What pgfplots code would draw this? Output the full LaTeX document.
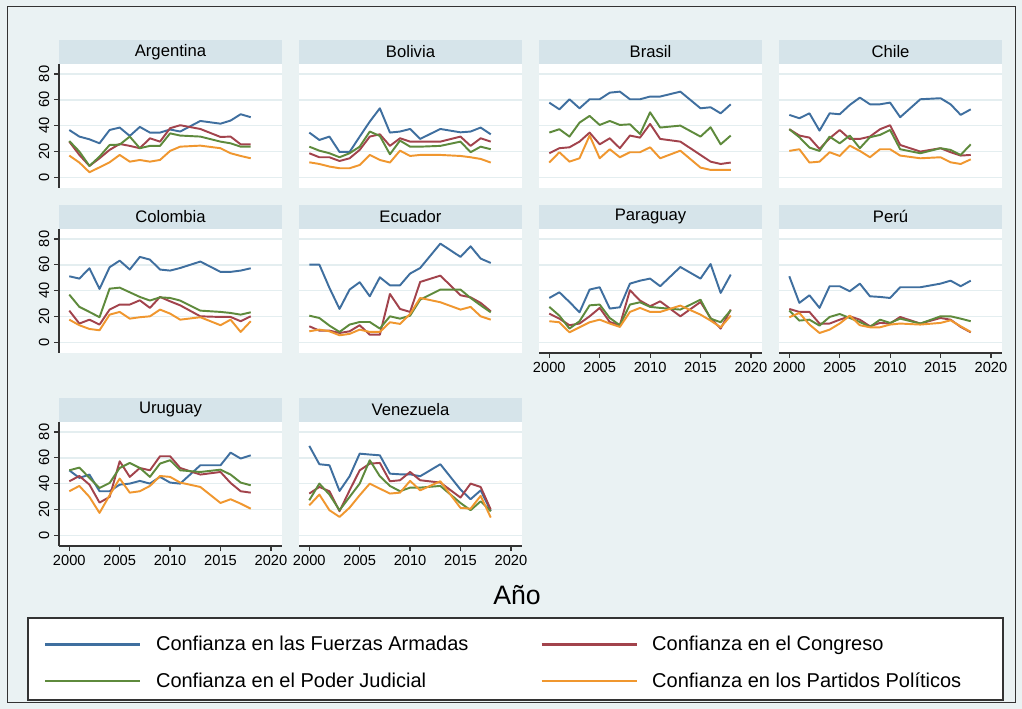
\documentclass[border=0pt]{standalone}
\usepackage{fontspec}
\setmainfont{Liberation Sans}
\usepackage{pgfplots}
\pgfplotsset{compat=1.18}
\usepackage{pgfplotstable}

\definecolor{bgc}{HTML}{EAF2F3}
\definecolor{stripc}{HTML}{D6E4EA}
\definecolor{gridc}{HTML}{E4EEF0}
\definecolor{axc}{HTML}{333333}
\definecolor{cfa}{HTML}{3F6F9F}
\definecolor{cco}{HTML}{A2434C}
\definecolor{cpj}{HTML}{5E8A3C}
\definecolor{cpp}{HTML}{F0972F}

% columns: fa = Fuerzas Armadas, co = Congreso, pj = Poder Judicial, pp = Partidos
\pgfplotstableread{
year fa co pj pp
2000 36.6 27.6 28.1 16.8
2001 31.5 17.3 19.9 11.4
2002 29.4 8.8 8.8 3.9
2003 26.3 14.7 16.0 7.7
2004 36.6 21.2 25.0 11.6
2005 38.5 25.8 25.3 17.3
2006 32.0 24.3 31.5 12.1
2007 39.0 22.5 22.5 13.4
2008 34.6 30.2 24.3 12.1
2009 34.6 27.6 24.3 13.4
2010 37.0 38.0 34.0 20.4
2011 35.4 40.3 32.3 23.7
2013 43.6 37.4 31.5 24.5
2015 41.5 31.2 27.6 22.5
2016 43.9 31.5 26.3 18.6
2017 48.8 25.5 23.7 16.5
2018 46.5 25.5 23.7 14.7
}\argentina
\pgfplotstableread{
year fa co pj pp
2000 34.6 18.6 23.7 11.6
2001 28.9 15.5 20.6 10.3
2002 31.5 15.5 18.6 8.3
2003 19.6 12.6 15.5 7.0
2004 19.6 14.7 18.6 7.0
2005 31.5 21.2 23.7 9.5
2006 43.1 31.5 35.4 17.3
2007 53.4 33.3 32.0 13.4
2008 34.6 24.3 17.8 11.4
2009 35.4 30.2 28.4 20.6
2010 37.4 27.6 23.7 16.5
2011 29.7 27.6 23.7 17.3
2013 37.4 27.6 24.3 17.3
2015 34.8 31.5 27.6 16.5
2016 35.4 24.3 19.4 15.5
2017 38.5 30.2 23.7 14.2
2018 33.3 27.6 21.7 11.4
}\bolivia
\pgfplotstableread{
year fa co pj pp
2000 57.8 18.6 34.6 11.4
2001 52.6 22.5 37.2 19.4
2002 60.4 23.2 31.5 12.1
2003 53.4 27.6 42.3 14.7
2004 60.4 34.6 47.5 32.3
2005 60.4 25.5 40.5 14.7
2006 65.5 30.2 43.6 21.7
2007 66.3 22.5 40.5 15.5
2008 60.4 32.3 41.0 19.4
2009 60.4 30.7 33.5 19.4
2010 62.5 41.3 50.3 23.2
2011 62.5 29.7 38.5 14.7
2013 66.3 27.6 40.0 20.6
2015 53.4 17.3 31.5 7.5
2016 54.2 12.1 38.7 5.7
2017 49.5 10.3 25.5 5.7
2018 56.5 11.4 32.3 5.7
}\brasil
\pgfplotstableread{
year fa co pj pp
2000 48.3 37.2 37.2 20.4
2001 45.7 32.3 31.0 21.7
2002 49.5 30.7 23.0 11.4
2003 36.1 21.9 20.4 12.1
2004 49.5 30.2 31.5 19.4
2005 48.8 36.6 26.3 16.5
2006 56.0 29.7 32.3 24.5
2007 61.7 29.7 22.5 20.4
2008 56.5 31.5 31.0 15.5
2009 56.5 37.2 32.8 21.7
2010 57.8 40.3 36.6 21.7
2011 46.5 25.0 21.7 16.8
2013 60.4 19.9 18.6 14.7
2015 61.2 22.5 22.5 15.5
2016 56.5 19.4 21.2 11.6
2017 48.3 16.8 17.3 10.3
2018 52.6 17.3 25.5 13.9
}\chile
\pgfplotstableread{
year fa co pj pp
2000 51.1 24.5 36.9 17.5
2001 49.3 14.5 27.4 13.2
2002 57.3 17.5 23.5 10.3
2003 41.3 13.7 19.4 9.3
2004 58.1 25.3 41.5 21.4
2005 63.2 29.2 42.3 23.5
2006 56.3 29.2 38.7 18.3
2007 66.1 32.5 35.1 19.4
2008 64.0 26.6 32.3 20.1
2009 56.3 35.1 34.8 25.3
2010 55.5 31.7 34.3 22.2
2011 57.5 28.6 32.3 17.5
2013 62.5 20.1 24.5 19.4
2015 54.5 19.6 23.5 13.2
2016 54.5 19.6 22.7 17.5
2017 55.5 16.3 21.4 8.0
2018 57.3 20.1 23.2 16.3
}\colombia
\pgfplotstableread{
year fa co pj pp
2000 60.1 12.4 20.6 8.5
2001 60.1 9.0 18.8 9.8
2002 42.1 9.0 12.9 8.5
2003 25.8 7.2 8.0 5.4
2004 40.8 8.5 13.7 6.5
2005 46.5 13.2 15.7 9.8
2006 35.6 5.9 15.7 8.0
2007 50.3 5.9 10.6 8.0
2008 44.1 37.4 20.1 15.5
2009 44.1 25.8 18.3 14.2
2010 53.2 23.5 20.6 21.9
2011 57.5 46.7 33.0 34.3
2013 76.4 51.6 40.8 31.0
2015 66.1 36.4 40.8 25.3
2016 74.3 34.8 34.3 27.4
2017 64.8 30.5 28.6 20.1
2018 61.4 24.0 23.2 17.5
}\ecuador
\pgfplotstableread{
year fa co pj pp
2000 34.3 22.2 27.4 16.3
2001 38.7 18.3 20.6 15.5
2002 31.2 13.2 10.6 7.7
2003 23.2 14.5 16.3 11.6
2004 40.8 20.1 28.6 15.5
2005 42.6 26.6 29.2 17.5
2006 26.1 15.7 18.8 14.5
2007 27.1 13.2 13.2 11.9
2008 45.4 40.3 29.2 23.5
2009 47.7 32.3 31.0 26.6
2010 49.3 27.9 27.4 23.5
2011 43.4 31.7 26.6 23.5
2013 58.3 20.1 25.3 28.4
2015 49.3 31.2 33.0 21.4
2016 60.6 18.8 18.3 16.8
2017 38.2 10.6 15.5 11.6
2018 52.4 25.3 24.8 20.6
}\paraguay
\pgfplotstableread{
year fa co pj pp
2000 51.1 25.8 24.5 19.4
2001 30.5 23.5 16.8 22.7
2002 36.4 23.5 17.5 13.7
2003 26.6 14.5 12.9 7.2
2004 43.4 14.5 19.6 9.8
2005 43.4 17.5 21.9 14.5
2006 39.5 20.1 18.8 20.6
2007 45.4 17.5 15.7 13.2
2008 35.6 12.4 11.9 11.6
2009 35.1 15.0 17.5 11.6
2010 34.3 14.5 15.0 13.7
2011 42.6 19.6 18.3 14.5
2013 42.6 14.5 14.5 13.7
2015 45.4 18.8 20.1 15.0
2016 47.7 17.5 20.1 17.0
2017 43.4 11.9 18.3 12.4
2018 47.7 7.7 16.3 8.0
}\peru
\pgfplotstableread{
year fa co pj pp
2000 50.3 41.8 50.3 34.1
2001 44.4 45.9 52.4 38.2
2002 47.0 39.2 44.4 29.7
2003 34.1 25.3 36.6 17.3
2004 34.1 29.7 40.5 31.0
2005 39.2 57.3 52.1 43.9
2006 40.0 45.2 56.0 33.0
2007 42.1 52.1 52.1 34.1
2008 40.0 50.3 45.2 38.2
2009 45.2 61.2 55.5 45.9
2010 40.8 61.2 58.1 45.2
2011 40.0 52.1 50.3 40.8
2013 54.2 47.0 49.0 37.4
2015 54.2 49.0 50.8 25.0
2016 64.0 40.5 47.0 27.9
2017 59.4 34.1 40.8 24.5
2018 61.9 33.0 38.7 20.6
}\uruguay
\pgfplotstableread{
year fa co pj pp
2000 69.2 32.3 27.1 23.2
2001 55.0 37.4 40.0 31.5
2002 54.2 34.1 31.5 19.4
2003 34.3 18.6 19.4 14.2
2004 45.7 34.8 29.7 21.4
2005 63.2 50.3 40.0 31.0
2006 62.5 55.5 58.1 40.0
2007 61.9 56.0 45.7 36.1
2008 47.7 41.8 38.2 32.3
2009 47.2 42.6 34.1 33.0
2010 47.2 49.0 36.9 42.1
2011 45.7 42.6 36.9 34.8
2013 55.0 40.8 38.2 41.8
2015 35.4 29.2 25.0 21.2
2016 27.9 40.0 19.4 20.6
2017 34.8 37.4 26.3 30.5
2018 18.8 19.9 18.6 13.7
}\venezuela

\pgfplotsset{
  panel/.style={
    scale only axis, width=167.25pt, height=93pt,
    xmin=1998.98, xmax=2021.1, ymin=-8.3, ymax=87.7,
    axis background/.style={fill=white},
    axis x line*=bottom, axis y line*=left,
    axis line style={axc, line width=1pt},
    xtick={2000,2005,2010,2015,2020}, ytick={0,20,40,60,80},
    tick align=outside, major tick length=3.75pt,
    tick style={axc, line width=0.9pt},
    ymajorgrids, grid style={gridc, line width=1.1pt},
    xticklabel style={font=\fontsize{11}{12}\selectfont},
    yticklabel style={font=\fontsize{11}{12}\selectfont, rotate=90, anchor=south},
    /pgf/number format/1000 sep={},
    /pgf/number format/assume math mode=true,
    every axis title/.style={at={(0.5,1)}, anchor=south, fill=stripc,
      minimum width=167.25pt, minimum height=18pt, inner sep=0pt,
      font=\fontsize{12.5}{14}\selectfont},
    every axis plot/.append style={line width=1.45pt, line join=round, mark=none},
  },
  nox/.style={xticklabels={}, x axis line style={draw=none}, x tick style={draw=none}},
  noy/.style={yticklabels={}, y axis line style={draw=none}, y tick style={draw=none}},
}

\newcommand{\panel}[4]{%
  \begin{axis}[panel, at={(#1)}, title={#2}, #4]
    \addplot[cfa] table[x=year, y=fa] {#3};
    \addplot[cco] table[x=year, y=co] {#3};
    \addplot[cpj] table[x=year, y=pj] {#3};
    \addplot[cpp] table[x=year, y=pp] {#3};
  \end{axis}}

\begin{document}
\begin{tikzpicture}
\begin{scope}[x=0.75pt, y=-0.75pt]
  \path[use as bounding box] (0,0) rectangle (1022,709);
  \fill[bgc] (0,0) rectangle (1022,709);
  \draw[axc, line width=0.75pt] (7,7) rectangle (1015,702);
  \node[font=\fontsize{20}{24}\selectfont] at (517,595) {Año};
  \draw[fill=white, draw=axc, line width=1pt] (28,618) rectangle (1003,700);
\end{scope}

\panel{44.25pt,-141pt}{Argentina}{\argentina}{nox}
\panel{224.25pt,-141pt}{Bolivia}{\bolivia}{nox,noy}
\panel{404.25pt,-141pt}{Brasil}{\brasil}{nox,noy}
\panel{584.25pt,-141pt}{Chile}{\chile}{nox,noy}
\panel{44.25pt,-264.75pt}{Colombia}{\colombia}{nox}
\panel{224.25pt,-264.75pt}{Ecuador}{\ecuador}{nox,noy}
\panel{404.25pt,-264.75pt}{Paraguay}{\paraguay}{noy}
\panel{584.25pt,-264.75pt}{Perú}{\peru}{noy}
\panel{44.25pt,-409.5pt}{Uruguay}{\uruguay}{}
\panel{224.25pt,-409.5pt}{Venezuela}{\venezuela}{noy}

\begin{axis}[hide axis, scale only axis, width=1pt, height=1pt,
  xmin=0, xmax=1, ymin=0, ymax=1,
  at={(33pt,-475pt)}, anchor=north west,
  legend columns=2, legend cell align=left,
  legend style={at={(0,1)}, anchor=north west, draw=none, fill=none,
    inner sep=0pt, font=\fontsize{15}{17}\selectfont, row sep=11pt,
    /tikz/every odd column/.append style={column sep=9pt},
    /tikz/every even column/.append style={column sep=52pt}},
  legend image code/.code={\draw[#1] (0pt,0pt) -- (71.25pt,0pt);},
]
\addlegendimage{cfa, line width=1.6pt}\addlegendentry{Confianza en las Fuerzas Armadas}
\addlegendimage{cco, line width=1.6pt}\addlegendentry{Confianza en el Congreso}
\addlegendimage{cpj, line width=1.6pt}\addlegendentry{Confianza en el Poder Judicial}
\addlegendimage{cpp, line width=1.6pt}\addlegendentry{Confianza en los Partidos Políticos}
\end{axis}
\end{tikzpicture}
\end{document}
